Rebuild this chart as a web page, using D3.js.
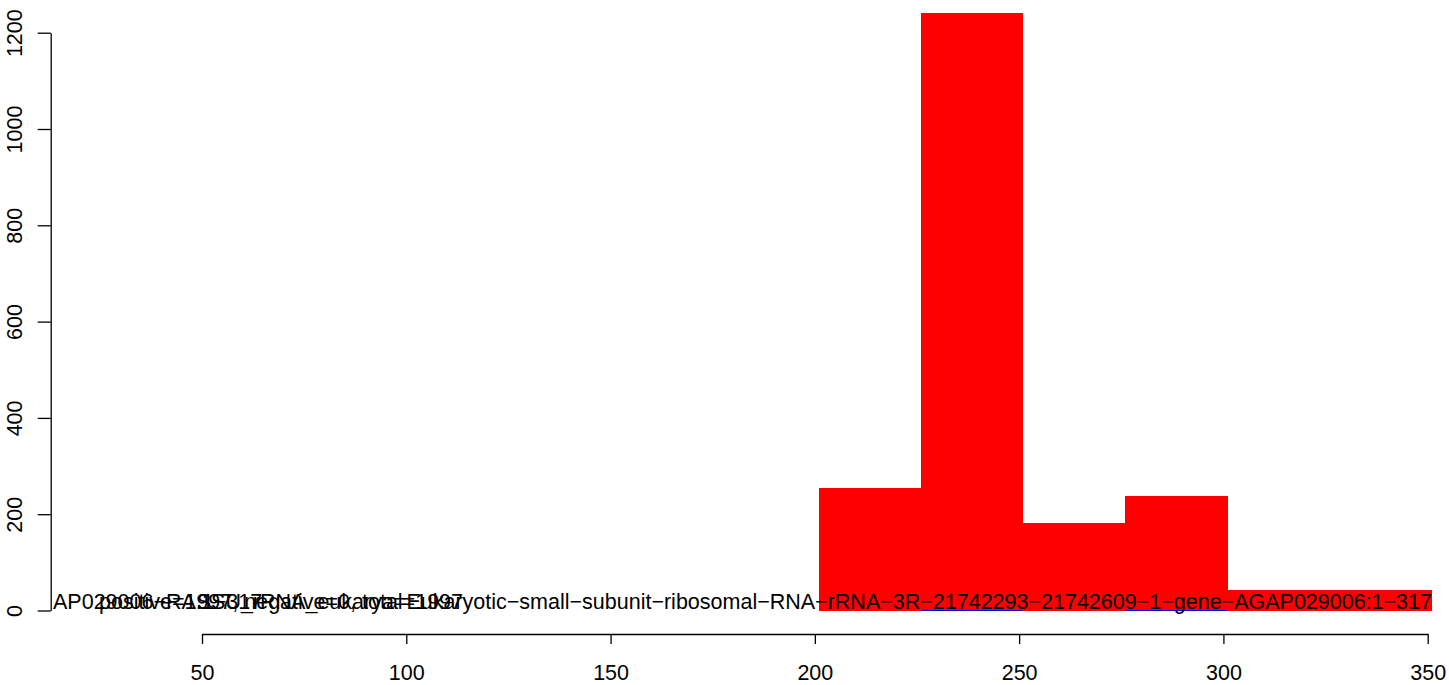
<!DOCTYPE html>
<html>
<head>
<meta charset="utf-8">
<script src="https://cdn.jsdelivr.net/npm/d3@7"></script>
<style>
  body { margin: 0; background: #fff; }
  svg { display: block; }
  text { font-family: "Liberation Sans", Arial, sans-serif; }
</style>
</head>
<body>
<svg id="chart" width="1449" height="685"></svg>
<script>
// ---- data ----
const binEdges = [201, 226, 251, 276, 301, 351];
const positiveCounts = [254, 1241, 181, 237, 43];
const negativeCounts = [0, 2, 0, 2, 0];
const xTicks = [50, 100, 150, 200, 250, 300, 350];
const yTicks = [0, 200, 400, 600, 800, 1000, 1200];
const labelTranscript = "AP029006−RA:1−317";
const labelSummary = "positive=1997, negative=0, total=1997";
const labelFeature = "SSU_rRNA_eukarya=Eukaryotic−small−subunit−ribosomal−RNA−rRNA−3R−21742293−21742609−1−gene−AGAP029006:1−317";

const FS = 21.5;

// ---- scales ----
const svg = d3.select("#chart");
const x = d3.scaleLinear().domain([50, 350]).range([202, 1427.7]);
const y = d3.scaleLinear().domain([0, 1200]).range([610.5, 32.7]);

const bins = positiveCounts.map((v, i) => ({ x0: binEdges[i], x1: binEdges[i + 1], pos: v, neg: negativeCounts[i] }));

// red bars
svg.append("g").attr("shape-rendering", "crispEdges").selectAll("rect").data(bins).join("rect")
  .attr("x", d => x(d.x0))
  .attr("width", d => x(d.x1) - x(d.x0))
  .attr("y", d => y(d.pos))
  .attr("height", d => y(0) - y(d.pos))
  .attr("fill", "#ff0000");

// blue bars (negatives)
svg.append("g").attr("shape-rendering", "crispEdges").selectAll("rect").data(bins.filter(d => d.neg > 0)).join("rect")
  .attr("x", d => x(d.x0))
  .attr("width", d => x(d.x1) - x(d.x0) - 1)
  .attr("y", d => y(d.neg))
  .attr("height", d => Math.max(1, y(0) - y(d.neg)))
  .attr("fill", "#0000ff");

// labels at the bottom of the plot
const labels = svg.append("g").attr("font-size", FS).attr("fill", "#000");
labels.append("text").attr("x", 53).attr("y", 609).text(labelTranscript);
labels.append("text").attr("x", 99).attr("y", 609).text(labelSummary);
labels.append("text").attr("x", 1432).attr("y", 609).attr("text-anchor", "end").text(labelFeature);

// x axis
const gx = svg.append("g").attr("transform", "translate(0,634)")
  .call(d3.axisBottom(x).tickValues(xTicks).tickSize(10).tickSizeOuter(0).tickFormat(d3.format("d")));
gx.select(".domain").attr("stroke-width", 1.3);
gx.selectAll(".tick line").attr("stroke-width", 1.3);
gx.selectAll(".tick text").attr("font-size", FS).attr("font-family", "Liberation Sans, Arial, sans-serif")
  .attr("y", 0).attr("dy", 46).attr("fill", "#000");

// y axis
const gy = svg.append("g").attr("transform", "translate(50.7,0)")
  .call(d3.axisLeft(y).tickValues(yTicks).tickSize(13).tickSizeOuter(0).tickFormat(d3.format("d")));
gy.select(".domain").attr("stroke-width", 1.3);
gy.selectAll(".tick line").attr("stroke-width", 1.3);
gy.selectAll(".tick text")
  .attr("font-size", FS).attr("font-family", "Liberation Sans, Arial, sans-serif")
  .attr("fill", "#000")
  .attr("text-anchor", "middle")
  .attr("dy", 0)
  .attr("x", 0).attr("y", 0)
  .attr("transform", "translate(-28.5,0) rotate(-90)");
</script>
</body>
</html>
